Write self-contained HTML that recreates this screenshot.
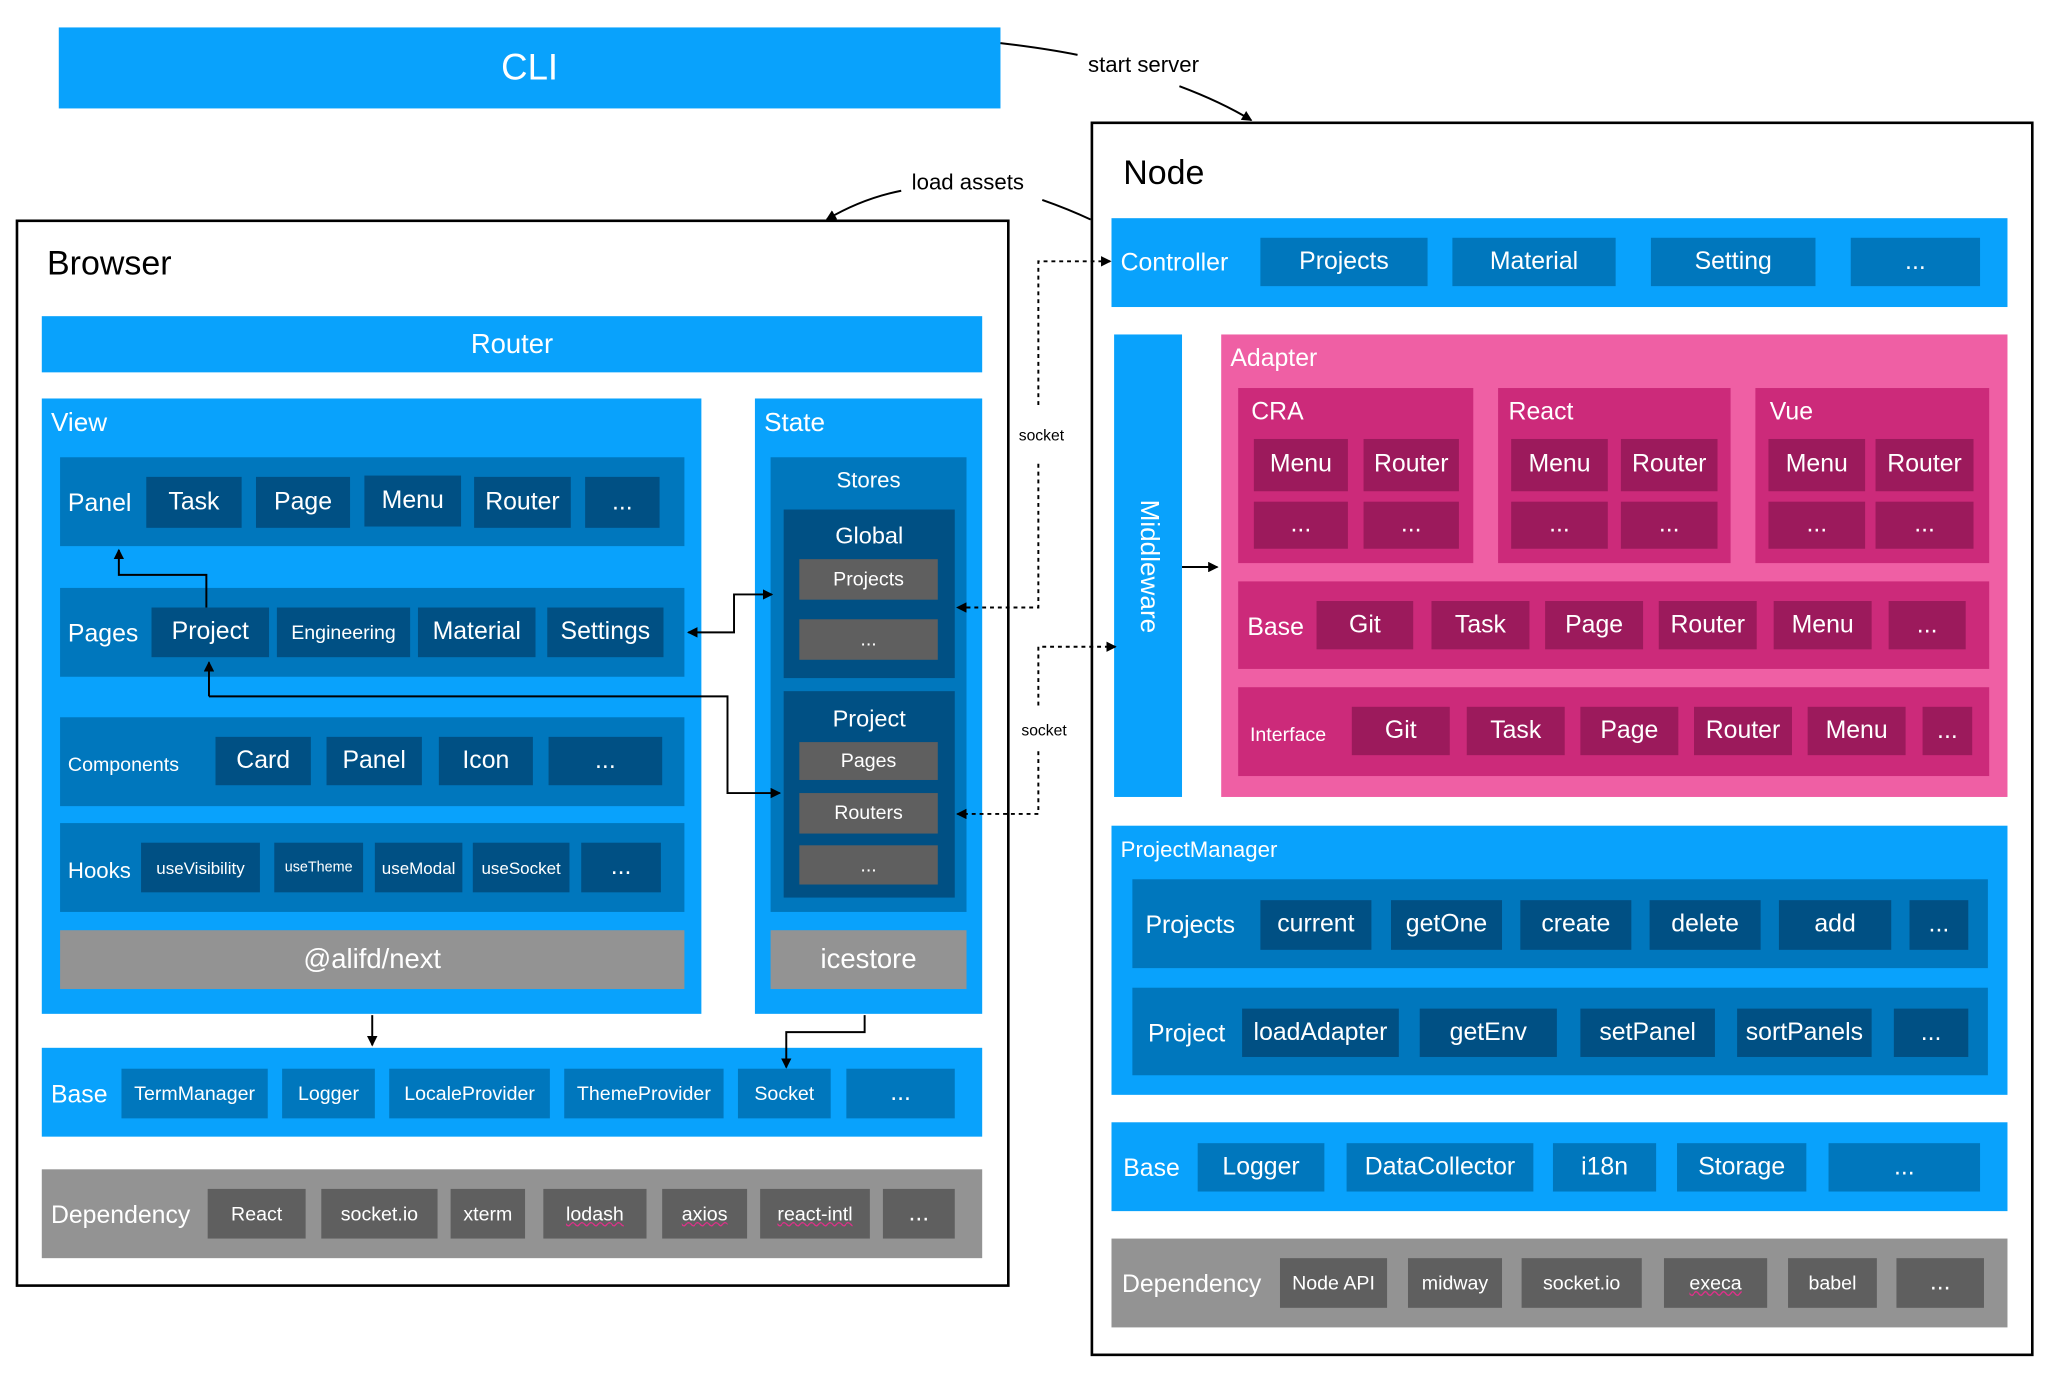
<!DOCTYPE html>
<html><head><meta charset="utf-8"><style>
html,body{margin:0;padding:0;background:#fff;width:2048px;height:1398px;overflow:hidden}
#w{position:absolute;left:0;top:0;width:1568px;height:1070px;transform:scale(1.3061,1.3065);transform-origin:0 0;font-family:"Liberation Sans",sans-serif}
.b{position:absolute;display:flex;align-items:center;justify-content:center;color:#fff;font-size:19px;box-sizing:border-box;white-space:nowrap}
.t{position:absolute;color:#fff;font-size:19px;white-space:nowrap;line-height:1}
.k{position:absolute;color:#000;white-space:nowrap;line-height:1}
.B{background:#09a2fc}.M{background:#0077bd}.D{background:#005084}
.G{background:#939393}.g{background:#5f5f5f}
.P{background:#ef5fa4}.p{background:#cc2a7a}.q{background:#9c1a5c}
.s{font-size:15px}.x{font-size:13px}
.u{text-decoration:underline wavy #e0308a;text-decoration-thickness:1px}
</style></head><body><div id="w">
<svg width="1568" height="1070" style="position:absolute;left:0;top:0;z-index:5;pointer-events:none">
<defs><marker id="a" markerWidth="8" markerHeight="8" refX="7" refY="4" orient="auto" markerUnits="userSpaceOnUse"><path d="M0,0 L8,4 L0,8z" fill="#000"/></marker></defs>
<g fill="none" stroke="#000" stroke-width="1.5">
<path d="M766,33 Q800,37 825,42"/>
<path d="M903,66 Q935,78 958,92" marker-end="url(#a)"/>
<path d="M690,146 Q660,152 633,168" marker-end="url(#a)"/>
<path d="M798,153 Q818,160 835,168"/>
<path d="M158,465 V440 H91 V421" marker-end="url(#a)"/>
<path d="M590,455 H562 V484 H527" marker-end="url(#a)"/>
<path d="M590,455 H591" marker-end="url(#a)"/>
<path d="M160,533 V507" marker-end="url(#a)"/>
<path d="M160,533 H557 V607 H597" marker-end="url(#a)"/>
<path d="M285,777 V800" marker-end="url(#a)"/>
<path d="M662,777 V790 H602 V817" marker-end="url(#a)"/>
<path d="M905,434 H932" marker-end="url(#a)"/>
</g>
<g fill="none" stroke="#000" stroke-width="1.5" stroke-dasharray="3,3">
<path d="M795,310 V200 H850" marker-end="url(#a)"/>
<path d="M795,355 V465 H733" marker-end="url(#a)"/>
<path d="M795,540 V495 H854" marker-end="url(#a)"/>
<path d="M795,575 V623 H733" marker-end="url(#a)"/>
</g>
</svg>
<div class="b B" style="left:45px;top:21px;width:721px;height:62px;font-size:28px">CLI</div>
<div class="k" style="left:833px;top:41px;font-size:17px">start server</div>
<div class="k" style="left:698px;top:131px;font-size:17px">load assets</div>
<div class="k" style="left:780px;top:327px;font-size:12px">socket</div>
<div class="k" style="left:782px;top:553px;font-size:12px">socket</div>

<!-- Browser -->
<div style="position:absolute;left:12px;top:168px;width:757px;height:813px;border:2px solid #000"></div>
<div class="k" style="left:36px;top:188px;font-size:26px">Browser</div>
<div class="b B" style="left:32px;top:242px;width:720px;height:43px;font-size:21px">Router</div>
<div class="b B" style="left:32px;top:305px;width:505px;height:471px"></div>
<div class="t" style="left:39px;top:314px;font-size:20px">View</div>
<div class="b M" style="left:46px;top:350px;width:478px;height:68px"></div>
<div class="t" style="left:52px;top:376px">Panel</div>
<div class="b D" style="left:112px;top:365px;width:73px;height:39px">Task</div>
<div class="b D" style="left:196px;top:365px;width:72px;height:39px">Page</div>
<div class="b D" style="left:279px;top:364px;width:74px;height:39px">Menu</div>
<div class="b D" style="left:363px;top:365px;width:74px;height:39px">Router</div>
<div class="b D" style="left:448px;top:365px;width:57px;height:39px">...</div>
<div class="b M" style="left:46px;top:450px;width:478px;height:68px"></div>
<div class="t" style="left:52px;top:476px">Pages</div>
<div class="b D" style="left:116px;top:465px;width:90px;height:38px">Project</div>
<div class="b D s" style="left:212px;top:465px;width:102px;height:38px">Engineering</div>
<div class="b D" style="left:320px;top:465px;width:90px;height:38px">Material</div>
<div class="b D" style="left:419px;top:465px;width:89px;height:38px">Settings</div>
<div class="b M" style="left:46px;top:549px;width:478px;height:68px"></div>
<div class="t s" style="left:52px;top:578px">Components</div>
<div class="b D" style="left:165px;top:564px;width:73px;height:37px">Card</div>
<div class="b D" style="left:250px;top:564px;width:73px;height:37px">Panel</div>
<div class="b D" style="left:336px;top:564px;width:72px;height:37px">Icon</div>
<div class="b D" style="left:420px;top:564px;width:87px;height:37px">...</div>
<div class="b M" style="left:46px;top:630px;width:478px;height:68px"></div>
<div class="t s" style="left:52px;top:658px;font-size:17px">Hooks</div>
<div class="b D x" style="left:108px;top:645px;width:91px;height:38px">useVisibility</div>
<div class="b D" style="left:210px;top:645px;width:68px;height:38px;font-size:11px">useTheme</div>
<div class="b D x" style="left:287px;top:645px;width:67px;height:38px">useModal</div>
<div class="b D x" style="left:362px;top:645px;width:74px;height:38px">useSocket</div>
<div class="b D" style="left:445px;top:645px;width:61px;height:38px">...</div>
<div class="b G" style="left:46px;top:712px;width:478px;height:45px;font-size:21px">@alifd/next</div>
<div class="b B" style="left:578px;top:305px;width:174px;height:471px"></div>
<div class="t" style="left:585px;top:314px;font-size:20px">State</div>
<div class="b M" style="left:590px;top:350px;width:150px;height:348px"></div>
<div class="t" style="left:590px;top:359px;width:150px;text-align:center;font-size:17px">Stores</div>
<div class="b D" style="left:600px;top:390px;width:131px;height:129px"></div>
<div class="t" style="left:600px;top:401px;width:131px;text-align:center;font-size:18px">Global</div>
<div class="b g s" style="left:612px;top:428px;width:106px;height:31px">Projects</div>
<div class="b g s" style="left:612px;top:474px;width:106px;height:31px">...</div>
<div class="b D" style="left:600px;top:529px;width:131px;height:158px"></div>
<div class="t" style="left:600px;top:541px;width:131px;text-align:center;font-size:18px">Project</div>
<div class="b g s" style="left:612px;top:568px;width:106px;height:29px">Pages</div>
<div class="b g s" style="left:612px;top:607px;width:106px;height:31px">Routers</div>
<div class="b g s" style="left:612px;top:647px;width:106px;height:30px">...</div>
<div class="b G" style="left:590px;top:712px;width:150px;height:45px;font-size:21px">icestore</div>
<div class="b B" style="left:32px;top:802px;width:720px;height:68px"></div>
<div class="t" style="left:39px;top:829px">Base</div>
<div class="b M s" style="left:93px;top:818px;width:112px;height:38px">TermManager</div>
<div class="b M s" style="left:216px;top:818px;width:71px;height:38px">Logger</div>
<div class="b M s" style="left:298px;top:818px;width:123px;height:38px">LocaleProvider</div>
<div class="b M s" style="left:432px;top:818px;width:122px;height:38px">ThemeProvider</div>
<div class="b M s" style="left:565px;top:818px;width:71px;height:38px">Socket</div>
<div class="b M" style="left:648px;top:818px;width:83px;height:38px">...</div>
<div class="b G" style="left:32px;top:895px;width:720px;height:68px"></div>
<div class="t" style="left:39px;top:921px">Dependency</div>
<div class="b g s" style="left:159px;top:910px;width:75px;height:38px">React</div>
<div class="b g s" style="left:246px;top:910px;width:89px;height:38px">socket.io</div>
<div class="b g s" style="left:345px;top:910px;width:57px;height:38px">xterm</div>
<div class="b g s" style="left:416px;top:910px;width:79px;height:38px"><span class="u">lodash</span></div>
<div class="b g s" style="left:507px;top:910px;width:65px;height:38px"><span class="u">axios</span></div>
<div class="b g s" style="left:582px;top:910px;width:84px;height:38px"><span class="u">react-intl</span></div>
<div class="b g" style="left:676px;top:910px;width:55px;height:38px">...</div>

<!-- Node -->
<div style="position:absolute;left:835px;top:93px;width:718px;height:941px;border:2px solid #000"></div>
<div class="k" style="left:860px;top:119px;font-size:26px">Node</div>
<div class="b B" style="left:851px;top:167px;width:686px;height:68px"></div>
<div class="t" style="left:858px;top:192px">Controller</div>
<div class="b M" style="left:965px;top:182px;width:128px;height:37px">Projects</div>
<div class="b M" style="left:1112px;top:182px;width:125px;height:37px">Material</div>
<div class="b M" style="left:1264px;top:182px;width:126px;height:37px">Setting</div>
<div class="b M" style="left:1417px;top:182px;width:99px;height:37px">...</div>
<div class="b B" style="left:853px;top:256px;width:52px;height:354px"><span style="transform:rotate(90deg);display:block;font-size:20px">Middleware</span></div>
<div class="b P" style="left:935px;top:256px;width:602px;height:354px"></div>
<div class="t" style="left:942px;top:265px">Adapter</div>
<div class="b p" style="left:948px;top:297px;width:180px;height:134px"></div>
<div class="b p" style="left:1147px;top:297px;width:178px;height:134px"></div>
<div class="b p" style="left:1344px;top:297px;width:179px;height:134px"></div>
<div class="t" style="left:958px;top:306px">CRA</div>
<div class="t" style="left:1155px;top:306px">React</div>
<div class="t" style="left:1355px;top:306px">Vue</div>
<div class="b q" style="left:960px;top:336px;width:72px;height:40px">Menu</div>
<div class="b q" style="left:1044px;top:336px;width:73px;height:40px">Router</div>
<div class="b q" style="left:960px;top:384px;width:72px;height:36px">...</div>
<div class="b q" style="left:1044px;top:384px;width:73px;height:36px">...</div>
<div class="b q" style="left:1157px;top:336px;width:74px;height:40px">Menu</div>
<div class="b q" style="left:1241px;top:336px;width:74px;height:40px">Router</div>
<div class="b q" style="left:1157px;top:384px;width:74px;height:36px">...</div>
<div class="b q" style="left:1241px;top:384px;width:74px;height:36px">...</div>
<div class="b q" style="left:1354px;top:336px;width:74px;height:40px">Menu</div>
<div class="b q" style="left:1436px;top:336px;width:75px;height:40px">Router</div>
<div class="b q" style="left:1354px;top:384px;width:74px;height:36px">...</div>
<div class="b q" style="left:1436px;top:384px;width:75px;height:36px">...</div>
<div class="b p" style="left:948px;top:445px;width:575px;height:67px"></div>
<div class="t" style="left:955px;top:471px">Base</div>
<div class="b q" style="left:1008px;top:460px;width:74px;height:37px">Git</div>
<div class="b q" style="left:1096px;top:460px;width:75px;height:37px">Task</div>
<div class="b q" style="left:1183px;top:460px;width:75px;height:37px">Page</div>
<div class="b q" style="left:1270px;top:460px;width:75px;height:37px">Router</div>
<div class="b q" style="left:1358px;top:460px;width:75px;height:37px">Menu</div>
<div class="b q" style="left:1446px;top:460px;width:59px;height:37px">...</div>
<div class="b p" style="left:948px;top:526px;width:575px;height:68px"></div>
<div class="t s" style="left:957px;top:555px">Interface</div>
<div class="b q" style="left:1035px;top:541px;width:75px;height:37px">Git</div>
<div class="b q" style="left:1123px;top:541px;width:75px;height:37px">Task</div>
<div class="b q" style="left:1210px;top:541px;width:75px;height:37px">Page</div>
<div class="b q" style="left:1297px;top:541px;width:75px;height:37px">Router</div>
<div class="b q" style="left:1384px;top:541px;width:75px;height:37px">Menu</div>
<div class="b q" style="left:1472px;top:541px;width:38px;height:37px">...</div>
<div class="b B" style="left:851px;top:632px;width:686px;height:206px"></div>
<div class="t s" style="left:858px;top:642px;font-size:17px">ProjectManager</div>
<div class="b M" style="left:867px;top:673px;width:655px;height:68px"></div>
<div class="t" style="left:877px;top:699px">Projects</div>
<div class="b D" style="left:965px;top:689px;width:85px;height:38px">current</div>
<div class="b D" style="left:1065px;top:689px;width:85px;height:38px">getOne</div>
<div class="b D" style="left:1164px;top:689px;width:85px;height:38px">create</div>
<div class="b D" style="left:1263px;top:689px;width:85px;height:38px">delete</div>
<div class="b D" style="left:1362px;top:689px;width:86px;height:38px">add</div>
<div class="b D" style="left:1462px;top:689px;width:45px;height:38px">...</div>
<div class="b M" style="left:867px;top:756px;width:655px;height:67px"></div>
<div class="t" style="left:879px;top:782px">Project</div>
<div class="b D" style="left:951px;top:772px;width:120px;height:37px">loadAdapter</div>
<div class="b D" style="left:1087px;top:772px;width:105px;height:37px">getEnv</div>
<div class="b D" style="left:1210px;top:772px;width:103px;height:37px">setPanel</div>
<div class="b D" style="left:1330px;top:772px;width:103px;height:37px">sortPanels</div>
<div class="b D" style="left:1450px;top:772px;width:57px;height:37px">...</div>
<div class="b B" style="left:851px;top:859px;width:686px;height:68px"></div>
<div class="t" style="left:860px;top:885px">Base</div>
<div class="b M" style="left:917px;top:875px;width:97px;height:37px">Logger</div>
<div class="b M" style="left:1031px;top:875px;width:143px;height:37px">DataCollector</div>
<div class="b M" style="left:1189px;top:875px;width:79px;height:37px">i18n</div>
<div class="b M" style="left:1284px;top:875px;width:99px;height:37px">Storage</div>
<div class="b M" style="left:1400px;top:875px;width:116px;height:37px">...</div>
<div class="b G" style="left:851px;top:948px;width:686px;height:68px"></div>
<div class="t" style="left:859px;top:974px">Dependency</div>
<div class="b g s" style="left:980px;top:963px;width:82px;height:38px">Node API</div>
<div class="b g s" style="left:1078px;top:963px;width:72px;height:38px">midway</div>
<div class="b g s" style="left:1165px;top:963px;width:92px;height:38px">socket.io</div>
<div class="b g s" style="left:1274px;top:963px;width:79px;height:38px"><span class="u">execa</span></div>
<div class="b g s" style="left:1369px;top:963px;width:68px;height:38px">babel</div>
<div class="b g" style="left:1452px;top:963px;width:67px;height:38px">...</div>
</div></body></html>
